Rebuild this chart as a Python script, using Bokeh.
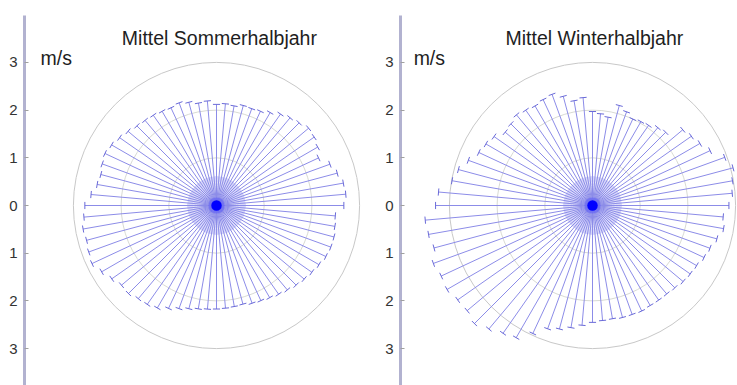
import numpy as np
from bokeh.plotting import figure
from bokeh.models import FixedTicker, CustomJSTickFormatter, Range1d
from bokeh.layouts import row
from bokeh.embed import file_html
from bokeh.resources import INLINE
from bokeh.core.properties import value

# direction of each spoke (degrees, counter-clockwise from east)
angle_deg = [0, 5, 10, 15, 20, 25, 30, 35, 40, 45, 50, 55, 60, 65, 70, 75, 80, 85,
             90, 95, 100, 105, 110, 115, 120, 125, 130, 135, 140, 145, 150, 155, 160, 165, 170, 175,
             180, 185, 190, 195, 200, 205, 210, 215, 220, 225, 230, 235, 240, 245, 250, 255, 260, 265,
             270, 275, 280, 285, 290, 295, 300, 305, 310, 315, 320, 325, 330, 335, 340, 345, 350, 355]

# mean wind speed (m/s) per direction
summer_ms = [2.67, 2.72, 2.70, 2.62, 2.53, 2.36, 2.45, 2.50, 2.52, 2.45, 2.40, 2.34, 2.25, 2.18, 2.16, 2.17, 2.12, 2.14,
             2.12, 2.20, 2.18, 2.24, 2.29, 2.26, 2.28, 2.31, 2.33, 2.36, 2.42, 2.48, 2.54, 2.58, 2.55, 2.51, 2.54, 2.64,
             2.76, 2.79, 2.84, 2.82, 2.85, 2.88, 2.78, 2.68, 2.60, 2.61, 2.55, 2.53, 2.48, 2.38, 2.30, 2.24, 2.20, 2.18,
             2.17, 2.16, 2.15, 2.14, 2.18, 2.20, 2.23, 2.27, 2.31, 2.36, 2.40, 2.44, 2.48, 2.53, 2.55, 2.55, 2.52, 2.50]

winter_ms = [2.86, 2.94, 2.98, 3.05, 2.95, 2.72, 2.60, 2.53, 2.47, 2.17, 2.13, 2.05, 2.03, 2.00, 2.09, 2.17, 1.88, 1.93,
             1.97, 2.27, 2.23, 2.37, 2.48, 2.45, 2.41, 2.44, 2.48, 2.42, 2.39, 2.52, 2.58, 2.63, 2.77, 2.91, 2.99, 3.24,
             3.29, 3.52, 3.49, 3.44, 3.55, 3.50, 3.52, 3.45, 3.43, 3.50, 3.38, 3.27, 3.20, 2.96, 2.75, 2.68, 2.60, 2.52,
             2.45, 2.42, 2.41, 2.43, 2.43, 2.44, 2.42, 2.42, 2.42, 2.44, 2.48, 2.50, 2.52, 2.58, 2.62, 2.70, 2.79, 2.75]

ring_ms = [1, 2, 3]
tick_ms = [-3, -2, -1, 0, 1, 2, 3]
titles = ["Mittel Sommerhalbjahr", "Mittel Winterhalbjahr"]
unit_label = "m/s"

PX = 47.7          # pixels per m/s
H = 385
CY = 205           # centre, px from top
CX = 192           # centre, px from frame left
FONT = "Liberation Sans"
SPOKE = "#8c8ce8"
CAP = "#6a6ad8"


def make_panel(title, speeds, width, border_left, title_x, unit_x):
    frame_w = width - border_left
    p = figure(width=width, height=H, output_backend="svg", toolbar_location=None,
               x_range=Range1d(-CX / PX, (frame_w - CX) / PX),
               y_range=Range1d(-(H - CY) / PX, CY / PX),
               x_axis_location=None,
               min_border_left=border_left, min_border_right=0,
               min_border_top=0, min_border_bottom=0)
    p.outline_line_color = None
    p.grid.visible = False
    p.background_fill_color = "white"
    p.border_fill_color = "white"

    ax = p.yaxis[0]
    ax.ticker = FixedTicker(ticks=tick_ms)
    ax.formatter = CustomJSTickFormatter(code="return String(Math.abs(tick));")
    ax.bounds = (-(H - CY) / PX, (CY - 15) / PX)
    ax.axis_line_color = "#b2b2d0"
    ax.axis_line_width = 3
    ax.major_tick_in = 4
    ax.major_tick_out = 0
    ax.major_tick_line_color = "#a0a0a0"
    ax.minor_tick_line_color = None
    ax.major_label_standoff = 7
    ax.major_label_text_font = FONT
    ax.major_label_text_font_size = "15px"
    ax.major_label_text_color = "#333333"

    # rings
    p.circle(x=[0] * len(ring_ms), y=[0] * len(ring_ms), radius=ring_ms,
             fill_color=None, line_color=["#d8dad4", "#d8dad4", "#c8c8c8"], line_width=1)

    th = np.radians(np.array(angle_deg, dtype=float))
    r = np.array(speeds)
    c, s = np.cos(th), np.sin(th)

    # faint loops around the centre
    lr = 0.3
    p.circle(x=lr * c, y=lr * s, radius=lr, fill_color=None,
             line_color="#d8d8fa", line_width=1)

    # spokes, each with a short cap at its end
    h = 0.075
    xs = [[0.0, float(x)] for x in r * c]
    ys = [[0.0, float(y)] for y in r * s]
    p.multi_line(xs=xs, ys=ys, line_color=SPOKE, line_width=1)
    cxs = [[float(a), float(b)] for a, b in zip(r * c - h * s, r * c + h * s)]
    cys = [[float(a), float(b)] for a, b in zip(r * s + h * c, r * s - h * c)]
    p.multi_line(xs=cxs, ys=cys, line_color=CAP, line_width=1)

    # centre blob
    p.circle(x=[0], y=[0], radius=0.17, fill_color="#4040ff", fill_alpha=0.35, line_color=None)
    p.circle(x=[0], y=[0], radius=0.11, fill_color="#0000ff", line_color=None)

    p.text(x=[title_x], y=[3.52], text=[title], text_font=value(FONT), text_font_size="19.5px",
           text_align="center", text_baseline="alphabetic", text_color="#1e1e1e")
    p.text(x=[unit_x], y=[3.09], text=[unit_label], text_font=value(FONT), text_font_size="19.5px",
           text_align="left", text_baseline="alphabetic", text_color="#1e1e1e")
    return p


p1 = make_panel(titles[0], summer_ms, 368, 24, 0.06, -3.69)
p2 = make_panel(titles[1], winter_ms, 369, 32, 0.04, -3.75)
layout = row(p1, p2)

open("out.html", "w").write(file_html(layout, INLINE))
